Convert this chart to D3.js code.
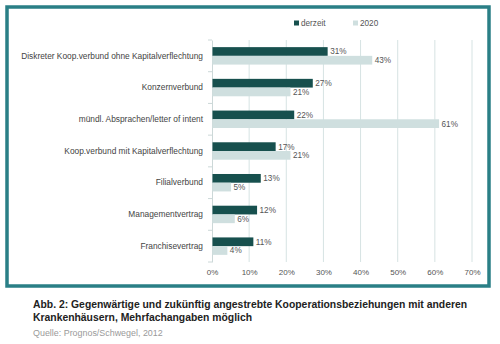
<!DOCTYPE html>
<html><head><meta charset="utf-8">
<script src="https://cdn.jsdelivr.net/npm/d3@7"></script>
<style>
html,body{margin:0;padding:0;background:#fff;}
svg{display:block;font-family:"Liberation Sans",Arial,Helvetica,sans-serif;}
</style></head>
<body><svg id="c" width="500" height="344"></svg>
<script>
const categories = ["Diskreter Koop.verbund ohne Kapitalverflechtung","Konzernverbund","mündl. Absprachen/letter of intent","Koop.verbund mit Kapitalverflechtung","Filialverbund","Managementvertrag","Franchisevertrag"];
const seriesNames = ["derzeit","2020"];
const derzeit = [31,27,22,17,13,12,11];
const y2020 = [43,21,61,21,5,6,4];
const xTicks = [0,10,20,30,40,50,60,70];
const captionLines = ["Abb. 2: Gegenwärtige und zukünftig angestrebte Kooperationsbeziehungen mit anderen","Krankenhäusern, Mehrfachangaben möglich"];
const source = "Quelle: Prognos/Schwegel, 2012";

const colors = ["#17504e","#cfdfdf"];
const svg = d3.select("#c");

function fitSize(sel, base, target){
  const w = sel.node().getComputedTextLength();
  return w > 0 ? base * target / w : base;
}

svg.append("rect").attr("x",7).attr("y",7).attr("width",482).attr("height",279)
  .attr("fill","none").attr("stroke","#2a7f86").attr("stroke-width",3.5);

const x = d3.scaleLinear().domain([0,70]).range([212,472]);
const y = d3.scaleBand().domain(categories).range([40,262]).paddingInner(0.45).paddingOuter(0.225);
const ys = d3.scaleBand().domain(seriesNames).range([0,y.bandwidth()]);

// gridlines
svg.append("g").selectAll("line").data(xTicks.slice(1)).join("line")
  .attr("x1",d=>x(d)).attr("x2",d=>x(d)).attr("y1",40).attr("y2",262)
  .attr("stroke","#d6e3e3").attr("stroke-width",1);

// x axis labels
const xa = svg.append("g").attr("transform","translate(0,262)")
  .call(d3.axisBottom(x).tickValues(xTicks).tickFormat(d=>d+"%").tickSize(0).tickPadding(7));
xa.select(".domain").remove();
xa.selectAll("text").attr("font-size",8).attr("fill","#555").attr("font-family","Liberation Sans, Arial, sans-serif");

// y axis
const ya = svg.append("g").attr("transform","translate(212,0)")
  .call(d3.axisLeft(y).tickSize(0).tickPadding(9));
ya.select(".domain").attr("stroke","#ccd8d8");
ya.selectAll("text").attr("font-size",8).attr("fill","#444").attr("font-family","Liberation Sans, Arial, sans-serif");
const ySize = fitSize(ya.select(".tick text"), 8, 182);
ya.selectAll("text").attr("font-size",ySize);
// boundary ticks
const bounds = categories.map(c=>y(c)-y.step()*y.paddingInner()/2).concat([262]);
svg.append("g").selectAll("line").data(bounds).join("line")
  .attr("x1",208).attr("x2",212).attr("y1",d=>d).attr("y2",d=>d)
  .attr("stroke","#ccd8d8");

const data = [derzeit,y2020];
seriesNames.forEach((s,si)=>{
  const g = svg.append("g");
  g.selectAll("rect").data(categories).join("rect")
    .attr("x",x(0)+0.5).attr("y",c=>y(c)+ys(s))
    .attr("width",(c,i)=>x(data[si][i])-x(0)).attr("height",ys.bandwidth())
    .attr("fill",colors[si]);
  g.selectAll("text").data(categories).join("text")
    .attr("x",(c,i)=>x(data[si][i])+3).attr("y",c=>y(c)+ys(s)+ys.bandwidth()/2)
    .attr("dy","0.35em").attr("font-size",8.2).attr("fill","#555")
    .text((c,i)=>data[si][i]+"%");
});

// legend
const lx = [294,353];
seriesNames.forEach((s,i)=>{
  svg.append("rect").attr("x",lx[i]).attr("y",20.5).attr("width",5).attr("height",5).attr("fill",colors[i]);
  svg.append("text").attr("x",lx[i]+7).attr("y",23).attr("dy","0.35em").attr("font-size",8.2).attr("fill","#555").text(s);
});

// caption
const capBase = [307.5, 321.3];
const caps = captionLines.map((t,i)=>svg.append("text").attr("x",33).attr("y",capBase[i])
  .attr("font-size",10).attr("font-weight","bold").attr("fill","#222").text(t));
const capSize = fitSize(caps[0], 10, 435);
caps.forEach(c=>c.attr("font-size",capSize));
const src = svg.append("text").attr("x",33).attr("y",336).attr("font-size",8).attr("fill","#9a9a9a").text(source);
src.attr("font-size", fitSize(src, 8, 130));
</script></body></html>
